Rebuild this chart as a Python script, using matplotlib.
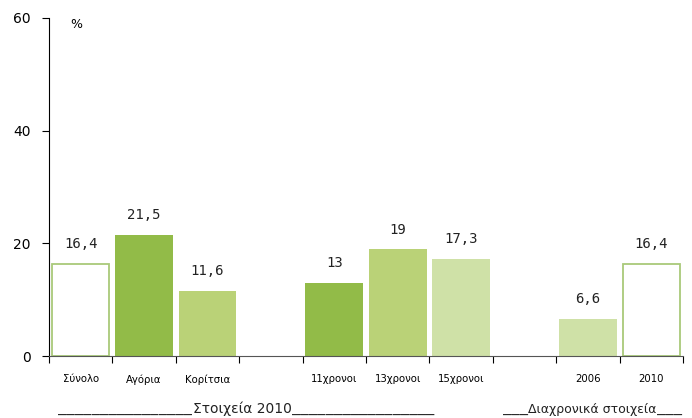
import numpy as np
import matplotlib
matplotlib.use("Agg")
import matplotlib.pyplot as plt

categories = ["Σύνολο", "Αγόρια", "Κορίτσια", "", "11χρονοι", "13χρονοι", "15χρονοι", "", "2006", "2010"]
values = [16.4, 21.5, 11.6, None, 13, 19, 17.3, None, 6.6, 16.4]
labels = ["16,4", "21,5", "11,6", "", "13", "19", "17,3", "", "6,6", "16,4"]

dark = "#92bb48"
mid = "#bad277"
light = "#cfe1a7"
edge = "#a9c97a"
styles = ["open", dark, mid, None, dark, mid, light, None, light, "open"]

fig = plt.figure(figsize=(6.92, 4.18), dpi=100)
ax = fig.add_axes([0.0708, 0.1483, 0.9162, 0.8087])

x = np.arange(len(categories))
for i, (v, st) in enumerate(zip(values, styles)):
    if v is None:
        continue
    if st == "open":
        ax.bar(x[i], v, width=0.9, facecolor="white", edgecolor=edge, linewidth=1.3)
    else:
        ax.bar(x[i], v, width=0.91, color=st)
    ax.annotate(labels[i], (x[i], v), xytext=(0, 14), textcoords="offset points",
                ha="center", va="center", fontsize=10, color="#222222",
                family="DejaVu Sans Mono")

ax.set_xlim(-0.5, len(categories) - 0.5)
ax.set_ylim(0, 60)
ax.set_yticks([0, 20, 40, 60])
ax.tick_params(axis="y", labelsize=10, length=5, width=0.8, pad=8)
ax.set_xticks(x)
ax.set_xticklabels(categories, fontsize=7.3)
ax.set_xticks(np.arange(-0.5, len(categories)), minor=True)
ax.tick_params(axis="x", which="major", length=0, pad=13)
ax.tick_params(axis="x", which="minor", length=5, width=0.8)
for s in ["top", "right"]:
    ax.spines[s].set_visible(False)
ax.spines["left"].set_linewidth(0.8)
ax.spines["bottom"].set_color("#555555")
ax.spines["bottom"].set_linewidth(0.8)

fig.text(70 / 692, 1 - 24 / 418, "%", fontsize=9, ha="left", va="center")

# group captions under the axis
ty = 1 - 409 / 418
mono = dict(fontsize=10, family="DejaVu Sans Mono", ha="left", va="center", color="#222222")
word = dict(ha="left", va="center", color="#222222")
fig.text(58 / 692, ty, "_" * 16, **mono)
fig.text(193 / 692, ty, "Στοιχεία 2010", fontsize=10, **word)
fig.text(292 / 692, ty, "_" * 17, **mono)
fig.text(503 / 692, ty, "___", **mono)
fig.text(528 / 692, ty, "Διαχρονικά στοιχεία", fontsize=9, **word)
fig.text(657 / 692, ty, "___", **mono)

fig.savefig("out.png", dpi=100)
